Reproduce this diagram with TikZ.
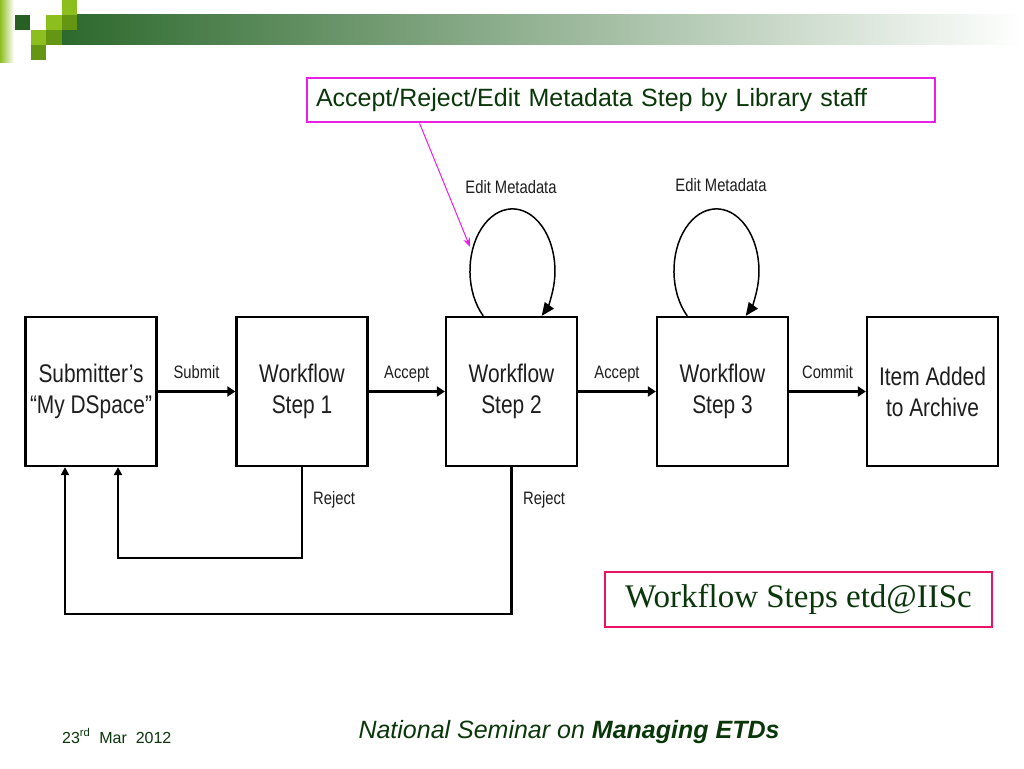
\documentclass[tikz,border=0pt]{standalone}
\usepackage{fontspec}
\setmainfont{Liberation Sans}
\newfontfamily\narrowfont[FakeStretch=0.82]{Liberation Sans}
\newfontfamily\timesfont{Liberation Serif}
\usetikzlibrary{arrows.meta}
\definecolor{barDark}{RGB}{45,105,45}
\definecolor{barMid}{RGB}{150,166,148}
\definecolor{lgreen}{RGB}{140,190,30}
\definecolor{mgreen}{RGB}{100,150,20}
\definecolor{dgreen}{RGB}{40,95,35}
\definecolor{txtgreen}{RGB}{10,55,10}
\definecolor{magentaline}{RGB}{235,30,230}
\definecolor{crimsonline}{RGB}{235,20,100}
\definecolor{diagtext}{RGB}{30,30,30}
\begin{document}
\begin{tikzpicture}[x=1pt,y=-1pt,
  box/.style={draw=black, line width=2.3pt, minimum width=131pt, minimum height=149pt,
    align=center, inner sep=0pt, text=diagtext, font=\narrowfont\fontsize{25.5}{31}\selectfont},
  flow/.style={line width=3.6pt, -{Triangle[length=8pt,width=10pt]}},
  lbl/.style={text=diagtext, font=\narrowfont\fontsize{18}{21}\selectfont, inner sep=0pt},
  flowlbl/.style={lbl, midway, anchor=base, yshift=13.5pt},
  rej/.style={line width=2.2pt, -{Triangle[length=8pt,width=8pt]}},
  loopar/.style={line width=1.5pt, -{Triangle[length=13pt,width=11pt]}},
  notebox/.style={draw=magentaline, line width=2.8pt, minimum height=44pt, text width=610pt,
    inner xsep=9pt, align=left, text=txtgreen, font=\fontsize{25}{30}\selectfont},
  callout/.style={draw=magentaline, line width=1pt, -{Stealth[length=9pt,width=7pt]}},
  titlebox/.style={draw=crimsonline, line width=2.8pt, minimum width=387pt, minimum height=55pt,
    text=txtgreen, font=\timesfont\fontsize{33}{38}\selectfont},
]
\useasboundingbox (0,0) rectangle (1024,768);
\fill[white] (0,0) rectangle (1024,768);

% --- corner decoration ---
\shade[left color=lgreen, right color=white] (0,0) rectangle (14,62);
\shade[left color=barDark, middle color=barMid, right color=white] (62,15) rectangle (1024,45);
\fill[lgreen] (62,0) rectangle (77,15);
\fill[lgreen] (46,15) rectangle (62,30);
\fill[lgreen] (31,30) rectangle (46,45);
\fill[mgreen] (62,15) rectangle (77,30);
\fill[mgreen] (46,30) rectangle (62,45);
\fill[mgreen] (31,45) rectangle (46,60);
\fill[dgreen] (15,15) rectangle (30,30);

% --- boxes ---
\node[box] (A) at (91,391.5) {Submitter’s\\“My DSpace”};
\node[box] (B) at (302,391.5) {Workflow\\Step 1};
\node[box] (C) at (511.5,391.5) {Workflow\\Step 2};
\node[box] (D) at (722.5,391.5) {Workflow\\Step 3};
\node[box] (E) at (932.5,391.5) {Item Added\\to Archive};

% --- main flow ---
\draw[flow] (A) -- (B) node[flowlbl] {Submit};
\draw[flow] (B) -- (C) node[flowlbl] {Accept};
\draw[flow] (C) -- (D) node[flowlbl] {Accept};
\draw[flow] (D) -- (E) node[flowlbl] {Commit};

% --- self loops ---
\draw[loopar] ([xshift=-28.3pt]C.north) arc[start angle=133.5, end angle=406.5, x radius=42.5, y radius=62];
\draw[loopar] ([xshift=-35.3pt]D.north) arc[start angle=133.5, end angle=406.5, x radius=42.5, y radius=62];
\node[lbl] (em1) at (511,187) {Edit Metadata};
\node[lbl] (em2) at (721,185) {Edit Metadata};

% --- reject paths ---
\coordinate (r1) at (118,557.7);
\coordinate (r2) at (65,613.7);
\draw[rej] (B.south) |- (r1) -- (r1 |- A.south);
\draw[rej] (C.south) |- (r2) -- (r2 |- A.south);
\node[lbl, anchor=west] (rej1) at (313,500) {Reject};
\node[lbl, anchor=west] (rej2) at (523,500) {Reject};

% --- callout ---
\node[notebox] (note) at (621,100) {Accept/Reject/Edit Metadata Step by Library staff};
\coordinate (tip) at (470,247);
\draw[callout] ([xshift=114pt]note.south west) -- (tip);

% --- title box ---
\node[titlebox] (title) at (798.5,599.5) {Workflow Steps etd@IISc};

% --- footer ---
\node[anchor=west, text=txtgreen, font=\fontsize{16}{19}\selectfont, inner sep=0pt] (date) at (62,736)
  {23\textsuperscript{rd}\ \ Mar\ \ 2012};
\node[text=txtgreen, font=\fontsize{25}{30}\selectfont\itshape, inner sep=0pt] (seminar) at (569,732)
  {National Seminar on \textbf{Managing ETDs}};
\end{tikzpicture}
\end{document}
